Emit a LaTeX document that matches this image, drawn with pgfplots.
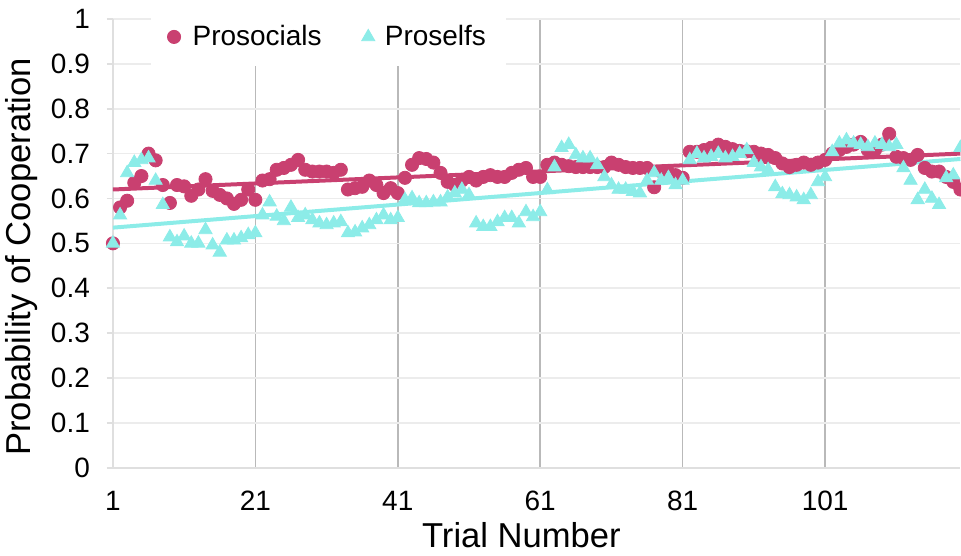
\documentclass[border=0pt]{standalone}
\usepackage{pgfplots}
\usepackage{pgfplotstable}
\pgfplotsset{compat=1.18}
\usepackage{fontspec}
\setmainfont{Liberation Sans}
\definecolor{prosoc}{RGB}{201,64,112}
\definecolor{proself}{RGB}{140,236,232}
\pgfplotstableread{
t pro self
1 0.500 0.500
2 0.580 0.563
3 0.595 0.657
4 0.635 0.680
5 0.650 0.686
6 0.700 0.690
7 0.685 0.640
8 0.630 0.586
9 0.590 0.514
10 0.630 0.503
11 0.627 0.516
12 0.606 0.500
13 0.620 0.500
14 0.643 0.530
15 0.617 0.496
16 0.608 0.480
17 0.600 0.507
18 0.588 0.507
19 0.597 0.512
20 0.620 0.519
21 0.597 0.523
22 0.640 0.563
23 0.643 0.592
24 0.664 0.560
25 0.668 0.550
26 0.675 0.580
27 0.686 0.557
28 0.664 0.563
29 0.660 0.552
30 0.660 0.545
31 0.660 0.541
32 0.657 0.545
33 0.664 0.548
34 0.620 0.523
35 0.623 0.525
36 0.626 0.534
37 0.640 0.541
38 0.630 0.552
39 0.612 0.563
40 0.623 0.552
41 0.612 0.557
42 0.646 0.597
43 0.675 0.601
44 0.690 0.590
45 0.688 0.590
46 0.680 0.592
47 0.657 0.592
48 0.637 0.603
49 0.630 0.612
50 0.640 0.620
51 0.648 0.608
52 0.640 0.545
53 0.648 0.537
54 0.652 0.537
55 0.648 0.548
56 0.648 0.557
57 0.657 0.557
58 0.664 0.545
59 0.668 0.570
60 0.648 0.559
61 0.648 0.570
62 0.675 0.619
63 0.680 0.670
64 0.675 0.713
65 0.672 0.720
66 0.670 0.697
67 0.670 0.690
68 0.670 0.690
69 0.670 0.675
70 0.670 0.648
71 0.680 0.630
72 0.675 0.620
73 0.670 0.620
74 0.668 0.615
75 0.668 0.612
76 0.668 0.640
77 0.625 0.657
78 0.660 0.640
79 0.657 0.646
80 0.652 0.630
81 0.646 0.640
82 0.704 0.686
83 0.704 0.700
84 0.708 0.690
85 0.713 0.693
86 0.720 0.700
87 0.715 0.690
88 0.710 0.693
89 0.706 0.700
90 0.705 0.708
91 0.704 0.680
92 0.700 0.670
93 0.697 0.664
94 0.690 0.626
95 0.678 0.610
96 0.670 0.608
97 0.675 0.603
98 0.680 0.597
99 0.675 0.608
100 0.680 0.637
101 0.686 0.648
102 0.700 0.704
103 0.708 0.723
104 0.715 0.730
105 0.720 0.723
106 0.726 0.720
107 0.708 0.715
108 0.708 0.723
109 0.720 0.720
110 0.744 0.715
111 0.693 0.720
112 0.690 0.668
113 0.686 0.640
114 0.697 0.597
115 0.668 0.620
116 0.660 0.600
117 0.660 0.586
118 0.648 0.646
119 0.637 0.652
120 0.620 0.713
}\datatable
\begin{document}
\begin{tikzpicture}
\begin{axis}[
  name=ax,
  scale only axis,
  width=424pt, height=224.5pt,
  xmin=1, xmax=120, ymin=0, ymax=1,
  clip=false,
  axis x line=bottom, axis y line=left,
  axis line style={-, draw=gray!25, line width=0.8pt},
  xtick={1,21,41,61,81,101},
  ytick={0,0.1,...,1},
  yticklabels={0,0.1,0.2,0.3,0.4,0.5,0.6,0.7,0.8,0.9,1},
  xmajorgrids, ymajorgrids,
  x grid style={gray!55, line width=0.8pt},
  y grid style={gray!15, line width=0.8pt},
  xtick style={draw=none},
  ytick style={draw=gray!25, line width=0.8pt},
  tick align=outside, major tick length=3pt,
  tick label style={font=\fontsize{14}{16}\selectfont},
  /pgf/number format/assume math mode=true,
  yticklabel style={xshift=-5pt},
  xticklabel style={yshift=-5pt},
  xlabel={Trial Number},
  ylabel={Probability of Cooperation},
  label style={font=\fontsize{17.3}{20}\selectfont},
  xlabel style={at={(axis description cs:0.482,0)}, anchor=center, yshift=-33.5pt},
  ylabel style={at={(axis description cs:0,0.47)}, anchor=center, rotate=0, yshift=45.5pt},
  legend style={at={(axis description cs:0.045,0.96)}, anchor=west,
    draw=none, fill=white, font=\fontsize{14}{16}\selectfont,
    inner xsep=8pt, inner ysep=6.5pt, row sep=0pt},
  legend columns=2,
  legend cell align=left,
  /tikz/every even column/.append style={column sep=18pt},
]
\addplot[only marks, color=prosoc, mark=*, mark size=3.3pt, mark options={solid, draw=prosoc, fill=prosoc}] table[x=t, y=pro] {\datatable};
\addlegendentry{\hspace{4pt}Prosocials}
\addplot[only marks, color=proself, mark=triangle*, mark size=3.8pt, mark options={solid, draw=proself, fill=proself}] table[x=t, y=self] {\datatable};
\addlegendentry{\hspace{3pt}Proselfs}
\addplot[forget plot, prosoc, line width=2pt] coordinates {(1,0.620) (120,0.700)};
\addplot[forget plot, proself, line width=2pt] coordinates {(1,0.535) (120,0.688)};
\end{axis}
\pgfresetboundingbox
\path[use as bounding box] ([shift={(-56.5pt,-44pt)}]ax.south west) rectangle ([shift={(0.3pt,9.5pt)}]ax.north east);
\end{tikzpicture}
\end{document}
